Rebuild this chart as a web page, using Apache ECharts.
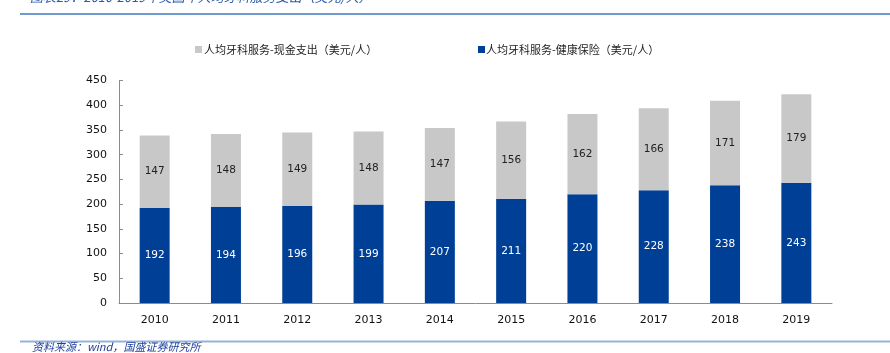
<!DOCTYPE html>
<html>
<head>
<meta charset="utf-8">
<script src="https://cdn.jsdelivr.net/npm/echarts@6/dist/echarts.min.js"></script>
<style>
html,body{margin:0;padding:0;background:#fff;}
#chart{width:890px;height:353px;}
</style>
</head>
<body>
<div id="chart"></div>
<script>
var years = ['2010','2011','2012','2013','2014','2015','2016','2017','2018','2019'];
var cashValues = [147,148,149,148,147,156,162,166,171,179];
var insuranceValues = [192,194,196,199,207,211,220,228,238,243];
var cashName = '人均牙科服务-现金支出（美元/人）';
var insuranceName = '人均牙科服务-健康保险（美元/人）';
var titleText = '图表29：2010-2019年美国年人均牙科服务支出（美元/人）';
var sourceText = '资料来源：wind，国盛证券研究所';

var chart = echarts.init(document.getElementById('chart'));
var numFont = '"DejaVu Sans", Verdana, sans-serif';
var cjkFont = '"Noto Sans CJK SC", sans-serif';
chart.setOption({
  animation: false,
  backgroundColor: '#fff',
  grid: {left: 119, right: 58, top: 80.5, bottom: 50},
  legend: [
    {data: [{name: cashName}], left: 190, top: 39, icon: 'rect', itemWidth: 7, itemHeight: 7, itemGap: 0,
     textStyle: {fontFamily: cjkFont, fontSize: 11, color: '#222', padding: [0,0,0,-3]}},
    {data: [{name: insuranceName}], left: 473, top: 39, icon: 'rect', itemWidth: 7, itemHeight: 7, itemGap: 0,
     textStyle: {fontFamily: cjkFont, fontSize: 11, color: '#222', padding: [0,0,0,-4]}}
  ],
  xAxis: {
    type: 'category', data: years, boundaryGap: true,
    axisLine: {lineStyle: {color: '#8c8c8c', width: 1}},
    axisTick: {inside: true, length: 4, lineStyle: {color: '#8c8c8c'}},
    axisLabel: {fontFamily: numFont, fontSize: 11, color: '#111', margin: 12}
  },
  yAxis: {
    type: 'value', min: 0, max: 450, interval: 50,
    axisLine: {show: true, lineStyle: {color: '#8c8c8c', width: 1}},
    axisTick: {show: true, inside: true, length: 4, lineStyle: {color: '#8c8c8c'}},
    splitLine: {show: false},
    axisLabel: {fontFamily: numFont, fontSize: 11, color: '#111', margin: 12}
  },
  series: [
    {name: insuranceName, type: 'bar', stack: 'total', data: insuranceValues, barWidth: 30,
     itemStyle: {color: '#003f96'},
     label: {show: true, position: 'inside', color: '#fff', fontFamily: numFont, fontSize: 10.5}},
    {name: cashName, type: 'bar', stack: 'total', data: cashValues, barWidth: 30,
     itemStyle: {color: '#c8c8c8'},
     label: {show: true, position: 'inside', color: '#222', fontFamily: numFont, fontSize: 10.5}}
  ],
  graphic: [
    {type: 'text', left: 30, top: -9, style: {text: titleText, font: 'italic 13px ' + cjkFont, fill: '#2a5aa8'}},
    {type: 'rect', shape: {x: 20, y: 13, width: 870, height: 2}, style: {fill: '#6f9bd1'}},
    {type: 'rect', shape: {x: 20, y: 340.5, width: 870, height: 2}, style: {fill: '#95b3d7'}},
    {type: 'text', left: 32, top: 341, style: {text: sourceText, font: 'italic 11px ' + cjkFont, fill: '#1f3f99'}}
  ]
});
</script>
</body>
</html>
